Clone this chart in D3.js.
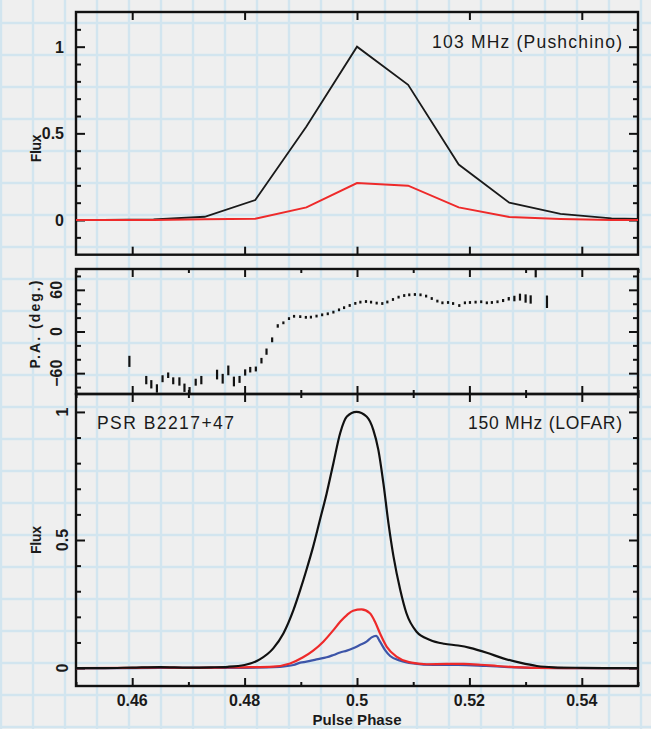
<!DOCTYPE html>
<html><head><meta charset="utf-8">
<script src="https://cdn.jsdelivr.net/npm/d3@7"></script>
<style>
html,body{margin:0;padding:0;background:#efefef;}
svg{display:block;}
text{font-family:"Liberation Sans",Arial,Helvetica,sans-serif;fill:#1a1a1a;}
</style></head>
<body>
<svg id="chart" width="651" height="729"></svg>
<script>
// ---------------- DATA ----------------
// Panel 1: 103 MHz (Pushchino)
const pushPhase = [0.4457,0.4548,0.4638,0.4729,0.4819,0.4910,0.5000,0.5091,0.5181,0.5271,0.5362,0.5453,0.5543];
const pushTotal = [0.000,0.001,0.004,0.019,0.115,0.540,1.000,0.780,0.320,0.100,0.036,0.010,0.004];
const pushLinear = [0.000,0.000,0.000,0.004,0.008,0.073,0.213,0.198,0.073,0.017,0.006,0.000,0.000];

// Panel 2: position angle (deg) with errors
const paPhase = [0.4595,0.4625,0.4634,0.4644,0.4654,0.4664,0.4673,0.4684,0.4693,0.4702,0.4713,0.4723,
  0.4751,0.4761,0.4771,0.4781,0.4791,0.4801,0.4810,0.4820,0.4830,0.4839,0.4849,0.4859,0.4869,0.4879,
  0.4888,0.4899,0.4909,0.4918,0.4928,0.4938,0.4948,0.4958,0.4968,0.4977,0.4987,0.4997,0.5006,0.5016,
  0.5025,0.5035,0.5045,0.5054,0.5064,0.5074,0.5084,0.5093,0.5103,0.5113,0.5123,0.5133,0.5143,0.5152,
  0.5162,0.5171,0.5182,0.5192,0.5201,0.5211,0.5221,0.5231,0.5240,0.5250,0.5260,0.5270,0.5280,0.5290,
  0.5300,0.5309,0.5318,0.5338];
const paValue = [-43,-70,-76,-82,-68,-63,-71,-72,-81,-85,-73,-70,
  -62,-68,-56,-72,-69,-59,-55,-54,-42,-29,-12,8,12.5,18.6,
  21.9,21.4,20.4,20.7,22.2,24,25.5,27.9,31.2,34.3,37.5,40.5,42.3,43.2,
  42.3,40.9,40.3,42.5,46.1,49.5,51.8,52.8,53.3,52.8,51,47.5,43.8,41.3,
  41.8,40.3,37.4,41.3,41.8,42.3,42.8,41.3,41.8,42.8,44.6,47.1,47.5,49.5,
  47.5,46.1,88,42.8];
const paError = [8,6,6,6,5,4,5,6,6,5,5,6,
  7,7,7,7,5,4.5,4,3.5,4,4.5,3.5,2.5,2,2,
  2,2,2,2,2,2,2,2,2,2,2,2,2,2,
  2,2,2,2,2,2,2,2,2,2,2,2,2,2,
  2,2,2,2,2,2,2,2,2,2,2.2,2.5,4,5,
  6,6,10,9];

// Panel 3: 150 MHz (LOFAR)
const lofarTotalPhase = [0.450,0.455,0.460,0.465,0.470,0.474,0.477,0.480,0.4827,0.4851,0.4869,0.4887,0.4899,0.4910,
  0.4922,0.4934,0.4946,0.4958,0.4970,0.4982,0.4999,0.5017,0.5029,0.5038,0.5047,0.5056,0.5065,0.5077,0.5088,
  0.5106,0.5130,0.5155,0.5180,0.5201,0.5231,0.5260,0.5290,0.5320,0.5350,0.5400,0.5450,0.5500];
const lofarTotal = [0.000,0.000,0.002,0.004,0.002,0.003,0.005,0.012,0.034,0.077,0.135,0.227,0.305,0.383,
  0.474,0.578,0.682,0.800,0.917,0.982,1.000,0.982,0.930,0.852,0.721,0.565,0.435,0.305,0.214,
  0.142,0.110,0.095,0.088,0.079,0.060,0.038,0.021,0.008,0.003,0.001,0.000,0.000];
const lofarLinearPhase = [0.450,0.460,0.465,0.470,0.475,0.480,0.4851,0.4881,0.4904,0.4922,0.4940,0.4958,0.4970,
  0.4982,0.4993,0.5008,0.5023,0.5032,0.5041,0.5053,0.5071,0.5094,0.5124,0.5160,0.5190,0.5220,0.5250,0.5280,
  0.5320,0.5400,0.5500];
const lofarLinear = [0.000,0.001,0.003,0.001,0.002,0.003,0.006,0.018,0.042,0.068,0.103,0.148,0.181,
  0.207,0.224,0.229,0.214,0.181,0.135,0.083,0.044,0.022,0.015,0.016,0.016,0.013,0.008,0.004,
  0.001,0.000,0.000];
const lofarCircPhase = [0.450,0.460,0.470,0.480,0.4863,0.4887,0.4899,0.4910,0.4928,0.4946,0.4958,0.4970,0.4982,
  0.4993,0.5005,0.5017,0.5026,0.5034,0.5041,0.5050,0.5059,0.5077,0.5100,0.5136,0.5180,0.5230,0.5270,0.5320,
  0.5400,0.5500];
const lofarCirc = [0.000,0.000,0.001,0.001,0.005,0.012,0.021,0.025,0.034,0.042,0.051,0.061,0.068,
  0.077,0.090,0.103,0.120,0.126,0.103,0.070,0.047,0.029,0.018,0.012,0.012,0.008,0.004,0.001,
  0.000,0.000];

const xTicksMajor = [0.46,0.48,0.50,0.52,0.54];
const xTickLabels = ["0.46","0.48","0.5","0.52","0.54"];
const xTicksMinor = [0.45,0.47,0.49,0.51,0.53,0.55];
const p1Major = [0,0.5,1], p1Labels = ["0","0.5","1"];
const p2Major = [-60,0,60], p2Labels = ["\u221260","0","60"];
const p3Major = [0,0.5,1], p3Labels = ["0","0.5","1"];

// ---------------- LAYOUT ----------------
const svg = d3.select("#chart");
const W = 651, H = 729;
const L = 76, R = 638;
const P1 = {top:12, bottom:254.7};
const P2 = {top:269, bottom:394};
const P3 = {top:394, bottom:686};

// background grid paper
svg.append("rect").attr("width",W).attr("height",H).attr("fill","#efefef");
const defs = svg.append("defs");
const blur = defs.append("filter").attr("id","soft");
blur.append("feGaussianBlur").attr("stdDeviation",0.7);
const grid = svg.append("g").attr("filter","url(#soft)").attr("stroke","#d2e5ef").attr("stroke-width",2.4);
d3.range(1, W, 32).forEach(x=>grid.append("line").attr("x1",x).attr("x2",x).attr("y1",0).attr("y2",H));
d3.range(23, H, 32).forEach(y=>grid.append("line").attr("x1",0).attr("x2",W).attr("y1",y).attr("y2",y));

const x = d3.scaleLinear().domain([0.45,0.55]).range([L,R]);
const y1 = d3.scaleLinear().domain([-0.2,1.2]).range([P1.bottom,P1.top]);
const y2 = d3.scaleLinear().domain([-90,90]).range([P2.bottom,P2.top]);
const y3 = d3.scaleLinear().domain([-0.07,1.07]).range([P3.bottom,P3.top]);

function clip(id, P){
  defs.append("clipPath").attr("id",id).append("rect")
    .attr("x",L).attr("y",P.top).attr("width",R-L).attr("height",P.bottom-P.top);
}
clip("c1",P1); clip("c2",P2); clip("c3",P3);

function frame(P, yScale, yMajor, yMinor, xMinor){
  const g = svg.append("g").attr("class","frame");
  const ax = (gen, tx, ty) => {
    const a = g.append("g").attr("transform",`translate(${tx},${ty})`).call(gen);
    a.select(".domain").remove();
    a.selectAll("text").remove();
    a.selectAll("line").attr("stroke","#111").attr("stroke-width",2);
  };
  ax(d3.axisBottom(x).tickValues(xTicksMajor).tickSize(-8), 0, P.bottom);
  ax(d3.axisTop(x).tickValues(xTicksMajor).tickSize(-8), 0, P.top);
  if(xMinor){
    ax(d3.axisBottom(x).tickValues(xTicksMinor).tickSize(-4), 0, P.bottom);
    ax(d3.axisTop(x).tickValues(xTicksMinor).tickSize(-4), 0, P.top);
  }
  ax(d3.axisLeft(yScale).tickValues(yMajor).tickSize(-9), L, 0);
  ax(d3.axisRight(yScale).tickValues(yMajor).tickSize(-9), R, 0);
  ax(d3.axisLeft(yScale).tickValues(yMinor).tickSize(-5), L, 0);
  ax(d3.axisRight(yScale).tickValues(yMinor).tickSize(-5), R, 0);
  g.append("rect").attr("x",L).attr("y",P.top).attr("width",R-L).attr("height",P.bottom-P.top)
    .attr("fill","none").attr("stroke","#111").attr("stroke-width",2.4);
}

function label(t, x0, y0, size, width, opts={}){
  const el = svg.append("text").attr("font-size",size).text(t);
  if(opts.rotate) el.attr("transform",`translate(${x0},${y0}) rotate(-90)`);
  else el.attr("x",x0).attr("y",y0);
  el.attr("text-anchor",opts.anchor||"start");
  if(opts.bold) el.attr("font-weight","bold");
  if(width) el.attr("textLength",width).attr("lengthAdjust","spacing");
  return el;
}

// ---------------- PANEL 1 ----------------
const minor1 = d3.range(-0.1,1.15,0.1).map(v=>+v.toFixed(2)).filter(v=>!p1Major.includes(v));
frame(P1, y1, p1Major, minor1, false);
const line1 = d3.line().x(d=>x(d[0])).y(d=>y1(d[1]));
const g1 = svg.append("g").attr("clip-path","url(#c1)");
g1.append("path").datum(d3.zip(pushPhase,pushTotal)).attr("d",line1)
  .attr("fill","none").attr("stroke","#1a1a1a").attr("stroke-width",1.8);
g1.append("path").datum(d3.zip(pushPhase,pushLinear)).attr("d",line1)
  .attr("fill","none").attr("stroke","#ee2a2a").attr("stroke-width",2);
p1Major.forEach((v,i)=>label(p1Labels[i], 64, y1(v)+6, 16, null, {anchor:"end", bold:true}));
label("Flux", 41, y1(0.5)+15, 14, 28, {rotate:true, anchor:"middle", bold:true});
label("103 MHz (Pushchino)", 432, 48, 17.5, 190, {});

// ---------------- PANEL 2 ----------------
const minor2 = [-80,-40,-20,20,40,80];
frame(P2, y2, p2Major, minor2, true);
const g2 = svg.append("g").attr("clip-path","url(#c2)");
g2.selectAll("line.pa").data(d3.range(paPhase.length)).join("line").attr("class","pa")
  .attr("x1",i=>x(paPhase[i])).attr("x2",i=>x(paPhase[i]))
  .attr("y1",i=>y2(paValue[i]+paError[i])).attr("y2",i=>y2(paValue[i]-paError[i]))
  .attr("stroke","#111").attr("stroke-width",2.2);
p2Major.forEach((v,i)=>label(p2Labels[i], 62, y2(v), 16, null, {rotate:true, anchor:"middle", bold:true}));
label("P.A. (deg.)", 40, y2(0)-7, 14, 88, {rotate:true, anchor:"middle", bold:true});

// ---------------- PANEL 3 ----------------
const minor3 = [0.1,0.2,0.3,0.4,0.6,0.7,0.8,0.9];
frame(P3, y3, p3Major, minor3, true);
const line3 = d3.line().x(d=>x(d[0])).y(d=>y3(d[1])).curve(d3.curveMonotoneX);
const g3 = svg.append("g").attr("clip-path","url(#c3)");
g3.append("path").datum(d3.zip(lofarCircPhase,lofarCirc)).attr("d",line3)
  .attr("fill","none").attr("stroke","#3d55a8").attr("stroke-width",2.2);
g3.append("path").datum(d3.zip(lofarLinearPhase,lofarLinear)).attr("d",line3)
  .attr("fill","none").attr("stroke","#ee2a2a").attr("stroke-width",2.2);
g3.append("path").datum(d3.zip(lofarTotalPhase,lofarTotal)).attr("d",line3)
  .attr("fill","none").attr("stroke","#111").attr("stroke-width",2.2);
p3Major.forEach((v,i)=>label(p3Labels[i], 68, y3(v), 16, null, {rotate:true, anchor:"middle", bold:true}));
label("Flux", 41, y3(0.5), 14, 28, {rotate:true, anchor:"middle", bold:true});
label("PSR B2217+47", 97, 429, 17.5, 137, {});
label("150 MHz (LOFAR)", 468, 429, 17.5, 154, {});

// x tick labels + title
xTicksMajor.forEach((v,i)=>label(xTickLabels[i], x(v), 706, 16, null, {anchor:"middle", bold:true}));
label("Pulse Phase", x(0.5), 725, 15, 89, {anchor:"middle", bold:true});
</script>
</body></html>
